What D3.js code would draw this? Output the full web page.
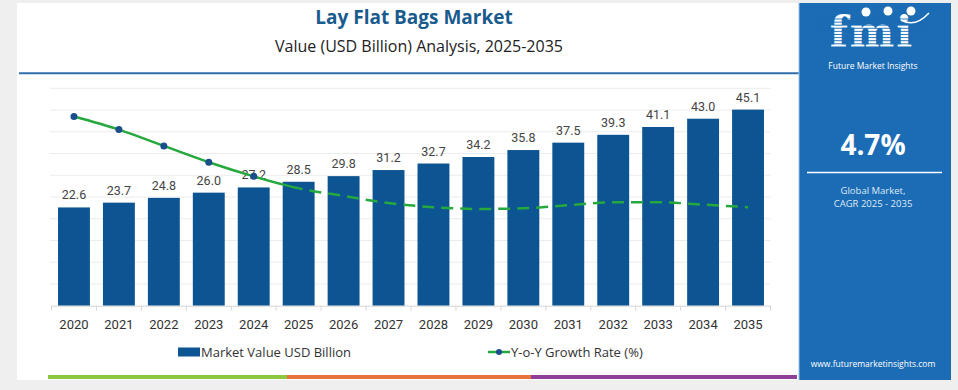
<!DOCTYPE html>
<html><head><meta charset="utf-8">
<script src="https://cdn.jsdelivr.net/npm/d3@7"></script>
<style>
html,body{margin:0;padding:0;background:#efefef;}
svg{display:block;}
</style></head>
<body>
<svg id="chart" width="958" height="390"></svg>
<script>
const years = ["2020","2021","2022","2023","2024","2025","2026","2027","2028","2029","2030","2031","2032","2033","2034","2035"];
const marketValue = [22.6,23.7,24.8,26.0,27.2,28.5,29.8,31.2,32.7,34.2,35.8,37.5,39.3,41.1,43.0,45.1];
const growthRate = [8.7,8.1,7.35,6.6,5.95,5.4,5.05,4.72,4.53,4.45,4.48,4.62,4.76,4.76,4.65,4.53];
const yTicks = [5,10,15,20,25,30,35,40,45,50];
const title = "Lay Flat Bags Market";
const subtitle = "Value (USD Billion) Analysis, 2025-2035";
const legendLabels = ["Market Value USD Billion","Y-o-Y Growth Rate (%)"];
const cagr = "4.7%";

const svg = d3.select("#chart");
const barColor = "#0d5592", lineColor = "#25a83d", markerColor = "#1a4f8c";
const font = "'Open Sans', 'Noto Sans', sans-serif";
const axisFont = "Roboto, 'Open Sans', sans-serif";

// card
svg.append("rect").attr("x",17).attr("y",3).attr("width",782).attr("height",377).attr("fill","#fff");

// title
svg.append("text").attr("x",414).attr("y",24).attr("text-anchor","middle")
  .attr("font-family",font).attr("font-weight",700).attr("font-size",19).attr("fill","#1a5b8e").text(title);
svg.append("text").attr("x",419).attr("y",52).attr("text-anchor","middle")
  .attr("font-family",font).attr("font-size",16).attr("fill","#222").text(subtitle);
svg.append("line").attr("x1",19).attr("x2",799).attr("y1",73.3).attr("y2",73.3)
  .attr("stroke","#2f6fa8").attr("stroke-width",2);

// scales
const x = d3.scaleBand().domain(years).range([51.5,770.5]).paddingInner(0.29).paddingOuter(0.145);
const y = d3.scaleLinear().domain([0,50]).range([305.7,88.3]);
const y2 = d3.scaleLinear().domain([0,10]).range([305.7,88.3]);
const step = x.step();

// gridlines
svg.append("g").selectAll("line").data(yTicks).join("line")
  .attr("x1",50).attr("x2",771).attr("y1",d=>y(d)).attr("y2",d=>y(d))
  .attr("stroke","#ececec").attr("stroke-width",1);

// bars
svg.append("g").selectAll("rect").data(years).join("rect")
  .attr("x",d=>x(d)).attr("width",x.bandwidth())
  .attr("y",(d,i)=>y(marketValue[i])).attr("height",(d,i)=>y(0)-y(marketValue[i]))
  .attr("fill",barColor);

// value labels
svg.append("g").selectAll("text").data(years).join("text")
  .attr("x",d=>x(d)+x.bandwidth()/2).attr("y",(d,i)=>y(marketValue[i])-8)
  .attr("text-anchor","middle").attr("font-family",axisFont).attr("font-size",12.5).attr("fill","#444")
  .text((d,i)=>marketValue[i].toFixed(1));

// x axis
const xAxis = d3.axisBottom(x).tickSize(0).tickPadding(14);
const ax = svg.append("g").attr("transform",`translate(0,${y(0)})`).call(xAxis);
ax.select(".domain").attr("stroke","#d6d6d6");
ax.selectAll("text").attr("font-family",axisFont).attr("font-size",13).attr("fill","#333");
const edges = d3.range(years.length+1).map(i=>x.range()[0]+i*step);
svg.append("g").selectAll("line").data(edges).join("line")
  .attr("x1",d=>d).attr("x2",d=>d).attr("y1",y(0)).attr("y2",y(0)+5)
  .attr("stroke","#d6d6d6");

// growth line
const cx = d => x(d)+x.bandwidth()/2;
const pts = years.map((d,i)=>[cx(d), y2(growthRate[i])]);
const lineGen = d3.line().curve(d3.curveMonotoneX);
const splitX = cx("2025");
const defs = svg.append("defs");
defs.append("clipPath").attr("id","clipSolid").append("rect").attr("x",0).attr("y",0).attr("width",splitX).attr("height",390);
defs.append("clipPath").attr("id","clipDash").append("rect").attr("x",splitX).attr("y",0).attr("width",958-splitX).attr("height",390);
svg.append("path").attr("d",lineGen(pts)).attr("fill","none").attr("stroke",lineColor).attr("stroke-width",2.5).attr("clip-path","url(#clipSolid)");
svg.append("path").attr("d",lineGen(pts)).attr("fill","none").attr("stroke",lineColor).attr("stroke-width",2.5)
  .attr("stroke-dasharray","12,7").attr("clip-path","url(#clipDash)");
svg.append("g").selectAll("circle").data(pts.slice(0,5)).join("circle")
  .attr("cx",d=>d[0]).attr("cy",d=>d[1]).attr("r",3.5).attr("fill",markerColor);

// legend
svg.append("rect").attr("x",178).attr("y",347.5).attr("width",22).attr("height",9).attr("fill",barColor);
svg.append("text").attr("x",201).attr("y",356.5).attr("font-family",font).attr("font-size",13).attr("fill","#333").text(legendLabels[0]);
svg.append("line").attr("x1",488).attr("x2",510).attr("y1",352).attr("y2",352).attr("stroke",lineColor).attr("stroke-width",2.5);
svg.append("circle").attr("cx",499).attr("cy",352).attr("r",3).attr("fill",markerColor);
svg.append("text").attr("x",511).attr("y",356.5).attr("font-family",font).attr("font-size",13).attr("fill","#333").text(legendLabels[1]);

// bottom stripe
const stripe = [[48,287,"#8dc63f"],[287,531,"#e8743b"],[531,797,"#8e3f97"]];
svg.append("g").selectAll("rect").data(stripe).join("rect")
  .attr("x",d=>d[0]).attr("width",d=>d[1]-d[0]).attr("y",375).attr("height",4).attr("fill",d=>d[2]);

// right panel
const px = 799, pw = 152, pcx = px+pw/2;
svg.append("rect").attr("x",px).attr("y",3).attr("width",pw).attr("height",377).attr("fill","#1b6cb4");
svg.append("line").attr("x1",px).attr("x2",px).attr("y1",3).attr("y2",380).attr("stroke","#9cc3e6").attr("stroke-width",1);
// logo
const logo = svg.append("g");
logo.append("text").attr("x",pcx-3).attr("y",47).attr("text-anchor","middle")
  .attr("font-family","'DejaVu Serif', serif").attr("font-weight",700).attr("font-size",42).attr("fill","#fff")
  .attr("letter-spacing",2).text("fmi");
logo.append("g").selectAll("line").data(d3.range(19,48,3.1)).join("line")
  .attr("x1",812).attr("x2",935).attr("y1",d=>d).attr("y2",d=>d).attr("stroke","#1b6cb4").attr("stroke-width",0.9);
logo.selectAll("circle.dot").data([[866,12],[888,11],[911,11]]).join("circle")
  .attr("cx",d=>d[0]).attr("cy",d=>d[1]).attr("r",4.5).attr("fill","#fff");
logo.append("path").attr("d","M901,20 Q915,28 929,13").attr("fill","none").attr("stroke","#fff").attr("stroke-width",1.5);
svg.append("text").attr("x",pcx-2).attr("y",69).attr("text-anchor","middle").attr("font-family",font)
  .attr("font-size",8.5).attr("fill","#fff").text("Future Market Insights");
svg.append("text").attr("x",873).attr("y",155).attr("text-anchor","middle").attr("font-family",font)
  .attr("font-weight",700).attr("font-size",28).attr("fill","#fff").text(cagr);
svg.append("line").attr("x1",807).attr("x2",942).attr("y1",172.5).attr("y2",172.5).attr("stroke","#fff").attr("stroke-width",1.5);
svg.append("text").attr("x",873).attr("y",194).attr("text-anchor","middle").attr("font-family",font)
  .attr("font-size",9.5).attr("fill","#dfe9f5").text("Global Market,");
svg.append("text").attr("x",873).attr("y",207).attr("text-anchor","middle").attr("font-family",font)
  .attr("font-size",9.5).attr("fill","#dfe9f5").text("CAGR 2025 - 2035");
svg.append("text").attr("x",873).attr("y",367).attr("text-anchor","middle").attr("font-family",font)
  .attr("font-size",8.5).attr("fill","#fff").text("www.futuremarketinsights.com");
</script>
</body></html>
